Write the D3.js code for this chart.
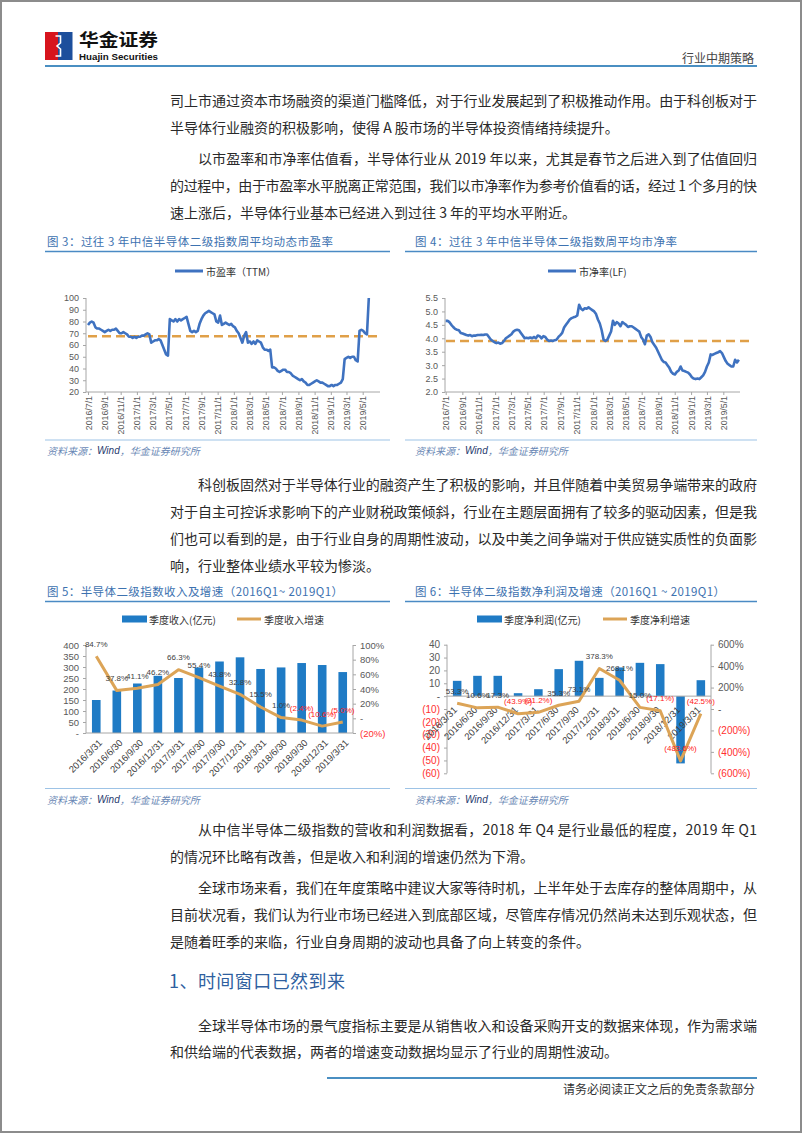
<!DOCTYPE html>
<html><head><meta charset="utf-8">
<script src="https://cdn.jsdelivr.net/npm/d3@7"></script>
<style>
html,body{margin:0;padding:0;background:#fff;}
svg{display:block;}
</style></head><body>
<svg id="page" width="802" height="1133"></svg>
<script>
// ---------------- DATA ----------------
const peValues = [77,79,80,79,75,74,74,73,72,71,
72,73,72,73,73,74,72,70,70,71,
70,69,67,67,66,67,66,67,67,68,
68,69,70,69,62,63,64,64,65,64,
60,56,52,51,82,81,80,82,80,82,
81,82,83,84,78,72,71,72,71,72,
78,82,85,87,88,89,88,87,86,80,
79,85,77,78,79,78,77,78,76,75,
72,70,66,62,68,71,62,63,61,63,
61,64,63,62,58,56,56,55,56,41,
41,40,38,37,38,39,39,37,37,36,
34,33,32,31,30,31,29,28,26,26,
27,28,29,30,29,28,28,27,26,25,
25,26,25,26,26,27,28,31,48,49,
50,49,50,50,47,46,72,73,72,70,
69,100];
const peAverage = 67.5;
const pbValues = [4.65,4.65,4.6,4.5,4.42,4.35,4.32,4.3,4.2,4.18,
4.15,4.12,4.1,4.12,4.08,4.1,4.1,4.12,4.12,4.13,
4.12,4.14,4.14,4.05,3.95,3.9,3.85,3.82,3.84,3.8,
3.82,3.9,4.0,4.05,4.1,4.15,4.25,4.3,4.32,4.3,
4.2,4.1,4.0,4.02,4.0,4.03,4.0,4.05,4.0,4.1,
4.08,4.0,4.08,4.05,3.95,3.9,3.92,3.9,3.93,3.95,
4.05,4.12,4.2,4.4,4.5,4.6,4.7,4.75,4.78,4.8,
4.85,5.25,5.1,5.05,5.12,5.1,5.15,5.1,5.05,5.0,
4.9,4.7,4.55,4.3,3.95,3.9,3.95,4.1,4.25,4.65,
4.5,4.6,4.55,4.45,4.6,4.55,4.5,4.42,4.45,4.45,
4.4,4.35,4.3,4.25,4.05,3.95,3.78,4.1,4.15,4.05,
3.85,3.75,3.65,3.5,3.35,3.2,3.12,3.1,3.0,2.9,
2.75,2.68,2.65,2.75,2.8,2.95,2.8,2.78,2.75,2.72,
2.65,2.55,2.5,2.48,2.5,2.48,2.55,2.62,2.75,2.95,
3.1,3.4,3.38,3.42,3.45,3.48,3.52,3.45,3.3,3.15,
3.05,3.0,2.95,2.95,3.2,3.1,3.2];
const pbAverage = 3.9;
const seriesStart = "2016/7/1";
const monthTicks = ["2016/7/1","2016/9/1","2016/11/1","2017/1/1","2017/3/1","2017/5/1","2017/7/1","2017/9/1","2017/11/1","2018/1/1","2018/3/1","2018/5/1","2018/7/1","2018/9/1","2018/11/1","2019/1/1","2019/3/1","2019/5/1"];
const peTicks = [20,30,40,50,60,70,80,90,100];
const pbTicks = [2.0,2.5,3.0,3.5,4.0,4.5,5.0,5.5];

const quarters = ["2016/3/31","2016/6/30","2016/9/30","2016/12/31","2017/3/31","2017/6/30","2017/9/30","2017/12/31","2018/3/31","2018/6/30","2018/9/30","2018/12/31","2019/3/31"];
const revenue = [150,193,225,260,250,298,325,344,291,298,318,309,277];
const revenueGrowth = [84.7,37.8,41.1,46.2,66.3,55.4,43.8,32.8,15.5,1.0,-2.4,-10.6,-5.0];
const revLeftTicks = [0,50,100,150,200,250,300,350,400];
const revRightTicks = [-20,0,20,40,60,80,100];

const profit = [11.9,15.8,15.8,2.3,5.4,21.0,27.5,14.2,22.3,25.9,24.9,-52.3,12.4];
const profitGrowth = [53.3,10.6,17.3,-43.9,-31.2,35.3,73.1,378.3,268.1,15.0,-17.1,-483.6,-42.5];
const profLeftTicks = [-60,-50,-40,-30,-20,-10,0,10,20,30,40];
const profRightTicks = [-600,-400,-200,0,200,400,600];

// ---------------- SETUP ----------------
const FONT = '"Noto Sans CJK SC","Noto Sans",sans-serif';
const LAT = '"Liberation Sans","Noto Sans CJK SC",sans-serif';
const svg = d3.select("#page").attr("font-family", FONT);
const BLUE_LINE = "#3f72c0", ORANGE = "#dca457", BAR = "#1f7bc5", AXIS = "#a6a6a6";
const TITLE_C = "#3d72b0", RULE_C = "#4a8ac4", SRC_RULE = "#9dc3e6";

svg.append("rect").attr("x",1).attr("y",1).attr("width",800).attr("height",1131)
  .attr("fill","#fff").attr("stroke","#8c8c8c").attr("stroke-width",2);

// header
svg.append("rect").attr("x",45).attr("y",32).attr("width",13).attr("height",28).attr("fill","#d7141d");
svg.append("rect").attr("x",58).attr("y",32).attr("width",14.5).attr("height",28).attr("fill","#1d4f9c");
svg.append("path").attr("d","M55.5,36 L60.5,36 L60.5,43 L57,46 L60.5,49 L60.5,56 L55.5,56")
  .attr("fill","none").attr("stroke","#fff").attr("stroke-width",1.6);
svg.append("text").attr("x",79).attr("y",46).attr("font-size",17.5).attr("font-weight","bold")
  .attr("fill","#111").attr("textLength",79).attr("lengthAdjust","spacingAndGlyphs").text("华金证券");
svg.append("text").attr("x",79).attr("y",60).attr("font-size",9.5).attr("font-weight","bold")
  .attr("font-family",LAT).attr("fill","#111").attr("textLength",79).attr("lengthAdjust","spacingAndGlyphs").text("Huajin Securities");
svg.append("text").attr("x",754).attr("y",57).attr("text-anchor","end").attr("dominant-baseline","central")
  .attr("font-size",12).attr("fill","#444").text("行业中期策略");
svg.append("line").attr("x1",45).attr("x2",757).attr("y1",66).attr("y2",66).attr("stroke","#4a8fc2").attr("stroke-width",2);

// body text
const LEFT = 170, RIGHT = 757, INDENT = 198;
const bodyText = [
 ["司上市通过资本市场融资的渠道门槛降低，对于行业发展起到了积极推动作用。由于科创板对于",100,0,1],
 ["半导体行业融资的积极影响，使得 A 股市场的半导体投资情绪持续提升。",127,0,0],
 ["以市盈率和市净率估值看，半导体行业从 2019 年以来，尤其是春节之后进入到了估值回归",158,1,1],
 ["的过程中，由于市盈率水平脱离正常范围，我们以市净率作为参考价值看的话，经过 1 个多月的快",185,0,1],
 ["速上涨后，半导体行业基本已经进入到过往 3 年的平均水平附近。",212,0,0],
 ["科创板固然对于半导体行业的融资产生了积极的影响，并且伴随着中美贸易争端带来的政府",484,1,1],
 ["对于自主可控诉求影响下的产业财税政策倾斜，行业在主题层面拥有了较多的驱动因素，但是我",511,0,1],
 ["们也可以看到的是，由于行业自身的周期性波动，以及中美之间争端对于供应链实质性的负面影",538,0,1],
 ["响，行业整体业绩水平较为惨淡。",565,0,0],
 ["从中信半导体二级指数的营收和利润数据看，2018 年 Q4 是行业最低的程度，2019 年 Q1",829,1,1],
 ["的情况环比略有改善，但是收入和利润的增速仍然为下滑。",856,0,0],
 ["全球市场来看，我们在年度策略中建议大家等待时机，上半年处于去库存的整体周期中，从",887,1,1],
 ["目前状况看，我们认为行业市场已经进入到底部区域，尽管库存情况仍然尚未达到乐观状态，但",914,0,1],
 ["是随着旺季的来临，行业自身周期的波动也具备了向上转变的条件。",941,0,0],
 ["全球半导体市场的景气度指标主要是从销售收入和设备采购开支的数据来体现，作为需求端",1025,1,1],
 ["和供给端的代表数据，两者的增速变动数据均显示了行业的周期性波动。",1051,0,0]
];
bodyText.forEach(([t,y,ind,just]) => {
  const x = ind ? INDENT : LEFT;
  const el = svg.append("text").attr("x",x).attr("y",y).attr("dominant-baseline","central")
    .attr("font-size",14).attr("fill","#2a2a2a").text(t);
  if (just) el.attr("textLength",RIGHT - x).attr("lengthAdjust","spacing");
});
svg.append("text").attr("x",169).attr("y",980).attr("dominant-baseline","central")
  .attr("font-size",18).attr("fill","#2f5f9f").attr("textLength",176).attr("lengthAdjust","spacing")
  .text("1、时间窗口已然到来");

// footer
svg.append("line").attr("x1",327).attr("x2",757).attr("y1",1078).attr("y2",1078).attr("stroke","#4a8fc2").attr("stroke-width",2);
svg.append("text").attr("x",755).attr("y",1088).attr("text-anchor","end").attr("dominant-baseline","central")
  .attr("font-size",12).attr("fill","#333").text("请务必阅读正文之后的免责条款部分");

// figure titles & sources
function figTitle(x, y, x1, x2, w, txt) {
  svg.append("text").attr("x",x).attr("y",y).attr("dominant-baseline","central").attr("font-size",11.5)
    .attr("fill",TITLE_C).attr("textLength",w).attr("lengthAdjust","spacing").text(txt);
  svg.append("line").attr("x1",x1).attr("x2",x2).attr("y1",y+10.5).attr("y2",y+10.5).attr("stroke",RULE_C).attr("stroke-width",1.5);
}
function source(x, y, x1, x2) {
  svg.append("line").attr("x1",x1).attr("x2",x2).attr("y1",y-10).attr("y2",y-10).attr("stroke",SRC_RULE).attr("stroke-width",1);
  const t = svg.append("text").attr("x",x).attr("y",y).attr("dominant-baseline","central")
    .attr("font-size",10).attr("font-style","italic");
  t.append("tspan").attr("fill","#6a88b5").text("资料来源：");
  t.append("tspan").attr("fill","#1f3a6e").attr("font-family",LAT).text("Wind");
  t.append("tspan").attr("fill","#6a88b5").text("，华金证券研究所");
}
figTitle(47, 241, 45, 390, 286, "图 3：过往 3 年中信半导体二级指数周平均动态市盈率");
figTitle(415, 241, 405, 757, 262, "图 4：过往 3 年中信半导体二级指数周平均市净率");
figTitle(47, 591, 45, 390, 296, "图 5：半导体二级指数收入及增速（2016Q1~ 2019Q1）");
figTitle(415, 591, 405, 757, 310, "图 6：半导体二级指数净利润及增速（2016Q1 ~ 2019Q1）");
source(47, 450, 45, 390);
source(415, 450, 405, 757);
source(47, 798.5, 45, 390);
source(415, 798.5, 405, 757);

function styleAxis(g, size) {
  g.attr("font-family", LAT).attr("font-size", size);
  g.select(".domain").remove();
  g.selectAll(".tick line").attr("stroke", AXIS);
  g.selectAll(".tick text").attr("fill", "#595959");
}

// ---------------- LINE CHARTS (fig 3 / fig 4) ----------------
const parseD = d3.timeParse("%Y/%m/%d");
const t0 = parseD(seriesStart);
function lineChart(cfg) {
  const x = d3.scaleTime().domain([t0, parseD("2019/5/1")]).range([cfg.x0, cfg.x1]);
  const y = d3.scaleLinear().domain(cfg.yDomain).range([392, 298]);
  const pts = cfg.values.map((v,i) => ({d: d3.timeDay.offset(t0, 7*i), v}));
  svg.append("line").attr("x1",cfg.axisX).attr("x2",cfg.axisX).attr("y1",298).attr("y2",392).attr("stroke",AXIS);
  svg.append("line").attr("x1",cfg.axisX).attr("x2",cfg.axisEnd).attr("y1",392).attr("y2",392).attr("stroke",AXIS);
  const gy = svg.append("g").attr("transform",`translate(${cfg.axisX},0)`)
    .call(d3.axisLeft(y).tickValues(cfg.yTicks).tickSize(3).tickPadding(4).tickFormat(cfg.fmt));
  styleAxis(gy, 9);
  const tickDates = monthTicks.map(parseD);
  const gx = svg.append("g").attr("transform","translate(0,392)")
    .call(d3.axisBottom(x).tickValues(tickDates).tickSize(3).tickFormat((d,i)=>monthTicks[i]));
  styleAxis(gx, 8.8);
  gx.selectAll(".tick text").attr("transform","rotate(-90)").attr("x",-4).attr("y",0)
    .attr("dy","0.35em").attr("text-anchor","end");
  svg.append("line").attr("x1",cfg.dashX1).attr("x2",cfg.dashX2).attr("y1",y(cfg.avg)).attr("y2",y(cfg.avg))
    .attr("stroke","#e0a048").attr("stroke-width",2.6).attr("stroke-dasharray","9,5");
  svg.append("path").datum(pts).attr("fill","none").attr("stroke",BLUE_LINE).attr("stroke-width",2.6)
    .attr("stroke-linejoin","round")
    .attr("d", d3.line().x(p=>x(p.d)).y(p=>y(p.v)));
  svg.append("line").attr("x1",cfg.legX).attr("x2",cfg.legX+28).attr("y1",271).attr("y2",271)
    .attr("stroke",BLUE_LINE).attr("stroke-width",3);
  svg.append("text").attr("x",cfg.legX+31).attr("y",271).attr("dominant-baseline","central")
    .attr("font-size",10).attr("fill","#333").text(cfg.legend);
}
lineChart({values: peValues, avg: peAverage, yDomain:[20,100], yTicks: peTicks, fmt: d3.format("d"),
  x0: 88, x1: 362.7, axisX: 86, axisEnd: 380, dashX1: 88, dashX2: 380, legX: 175, legend: "市盈率（TTM）"});
lineChart({values: pbValues, avg: pbAverage, yDomain:[2,5.5], yTicks: pbTicks, fmt: d3.format(".1f"),
  x0: 445.7, x1: 723.3, axisX: 445, axisEnd: 740, dashX1: 446, dashX2: 750, legX: 548, legend: "市净率(LF)"});

// ---------------- COMBO CHARTS (fig 5 / fig 6) ----------------
const pct = v => v === 0 ? "-" : (v < 0 ? `(${Math.abs(v)}%)` : `${v}%`);
const num = v => v === 0 ? "-" : (v < 0 ? `(${Math.abs(v)})` : `${v}`);
const lbl = v => v < 0 ? `(${Math.abs(v).toFixed(1)}%)` : `${v.toFixed(1)}%`;

function comboChart(cfg) {
  const x = d3.scaleBand().domain(quarters).range([cfg.xL, cfg.xR]).paddingInner(0.58).paddingOuter(0.29);
  const yL = d3.scaleLinear().domain(cfg.leftDomain).range([cfg.yBottom, cfg.yTop]);
  const yR = d3.scaleLinear().domain(cfg.rightDomain).range([cfg.yBottom, cfg.yTop]);
  const bw = x.bandwidth();
  svg.append("g").selectAll("rect").data(cfg.bars).join("rect")
    .attr("x",(d,i)=>x(quarters[i])).attr("width",bw)
    .attr("y",d=>Math.min(yL(d),yL(0))).attr("height",d=>Math.abs(yL(d)-yL(0)))
    .attr("fill",BAR);
  svg.append("line").attr("x1",cfg.xL).attr("x2",cfg.xL).attr("y1",cfg.yTop).attr("y2",cfg.yBottom).attr("stroke",AXIS);
  svg.append("line").attr("x1",cfg.xR).attr("x2",cfg.xR).attr("y1",cfg.yTop).attr("y2",cfg.yBottom).attr("stroke",AXIS);
  svg.append("line").attr("x1",cfg.xL).attr("x2",cfg.xR).attr("y1",yL(0)).attr("y2",yL(0)).attr("stroke",AXIS);
  const gl = svg.append("g").attr("transform",`translate(${cfg.xL},0)`)
    .call(d3.axisLeft(yL).tickValues(cfg.leftTicks).tickSize(3).tickPadding(4).tickFormat(num));
  styleAxis(gl, cfg.tickSize);
  gl.selectAll(".tick text").attr("fill", d => d < 0 ? "#ff3030" : "#595959");
  const gr = svg.append("g").attr("transform",`translate(${cfg.xR},0)`)
    .call(d3.axisRight(yR).tickValues(cfg.rightTicks).tickSize(3).tickPadding(4).tickFormat(pct));
  styleAxis(gr, cfg.tickSize);
  gr.selectAll(".tick text").attr("fill", d => d < 0 ? "#ff3030" : "#595959");
  svg.append("g").attr("font-family",LAT).attr("font-size",cfg.catSize).attr("fill","#404040")
    .selectAll("text").data(quarters).join("text")
    .attr("text-anchor","end").attr("dominant-baseline","central")
    .attr("transform", q => `translate(${x(q)+bw/2+cfg.catDx},${yL(0)+cfg.catDy}) rotate(-45)`)
    .text(q => q);
  const lp = cfg.growth.map((v,i)=>({cx: x(quarters[i])+bw/2, cy: yR(v), v}));
  svg.append("path").datum(lp).attr("fill","none").attr("stroke",ORANGE).attr("stroke-width",3)
    .attr("stroke-linejoin","round").attr("d", d3.line().x(p=>p.cx).y(p=>p.cy));
  svg.append("g").attr("font-family",LAT).attr("font-size",8)
    .selectAll("text").data(lp).join("text")
    .attr("x",p=>p.cx).attr("y",p=>p.cy-12).attr("text-anchor","middle").attr("dominant-baseline","central")
    .attr("fill",p=>p.v<0?"#ff2020":"#404040").text(p=>lbl(p.v));
  svg.append("rect").attr("x",cfg.leg[0]).attr("y",615.5).attr("width",25).attr("height",7).attr("fill",BAR);
  svg.append("text").attr("x",cfg.leg[0]+27).attr("y",619).attr("dominant-baseline","central")
    .attr("font-size",10).attr("fill","#333").text(cfg.legText[0]);
  svg.append("line").attr("x1",cfg.leg[1]).attr("x2",cfg.leg[1]+24).attr("y1",619).attr("y2",619)
    .attr("stroke",ORANGE).attr("stroke-width",3);
  svg.append("text").attr("x",cfg.leg[1]+27).attr("y",619).attr("dominant-baseline","central")
    .attr("font-size",10).attr("fill","#333").text(cfg.legText[1]);
}
comboChart({bars: revenue, growth: revenueGrowth, xL: 86, xR: 353, yTop: 645, yBottom: 733,
  leftDomain:[0,400], rightDomain:[-20,100], leftTicks: revLeftTicks, rightTicks: revRightTicks,
  tickSize: 9.5, catSize: 9.5, catDx: 4, catDy: 8, leg:[122,237], legText:["季度收入(亿元)","季度收入增速"]});
comboChart({bars: profit, growth: profitGrowth, xL: 447, xR: 711, yTop: 644.7, yBottom: 773.3,
  leftDomain:[-60,40], rightDomain:[-600,600], leftTicks: profLeftTicks, rightTicks: profRightTicks,
  tickSize: 10, catSize: 9.5, catDx: -2, catDy: 12, leg:[477,603], legText:["季度净利润(亿元)","季度净利增速"]});
</script>
</body></html>
